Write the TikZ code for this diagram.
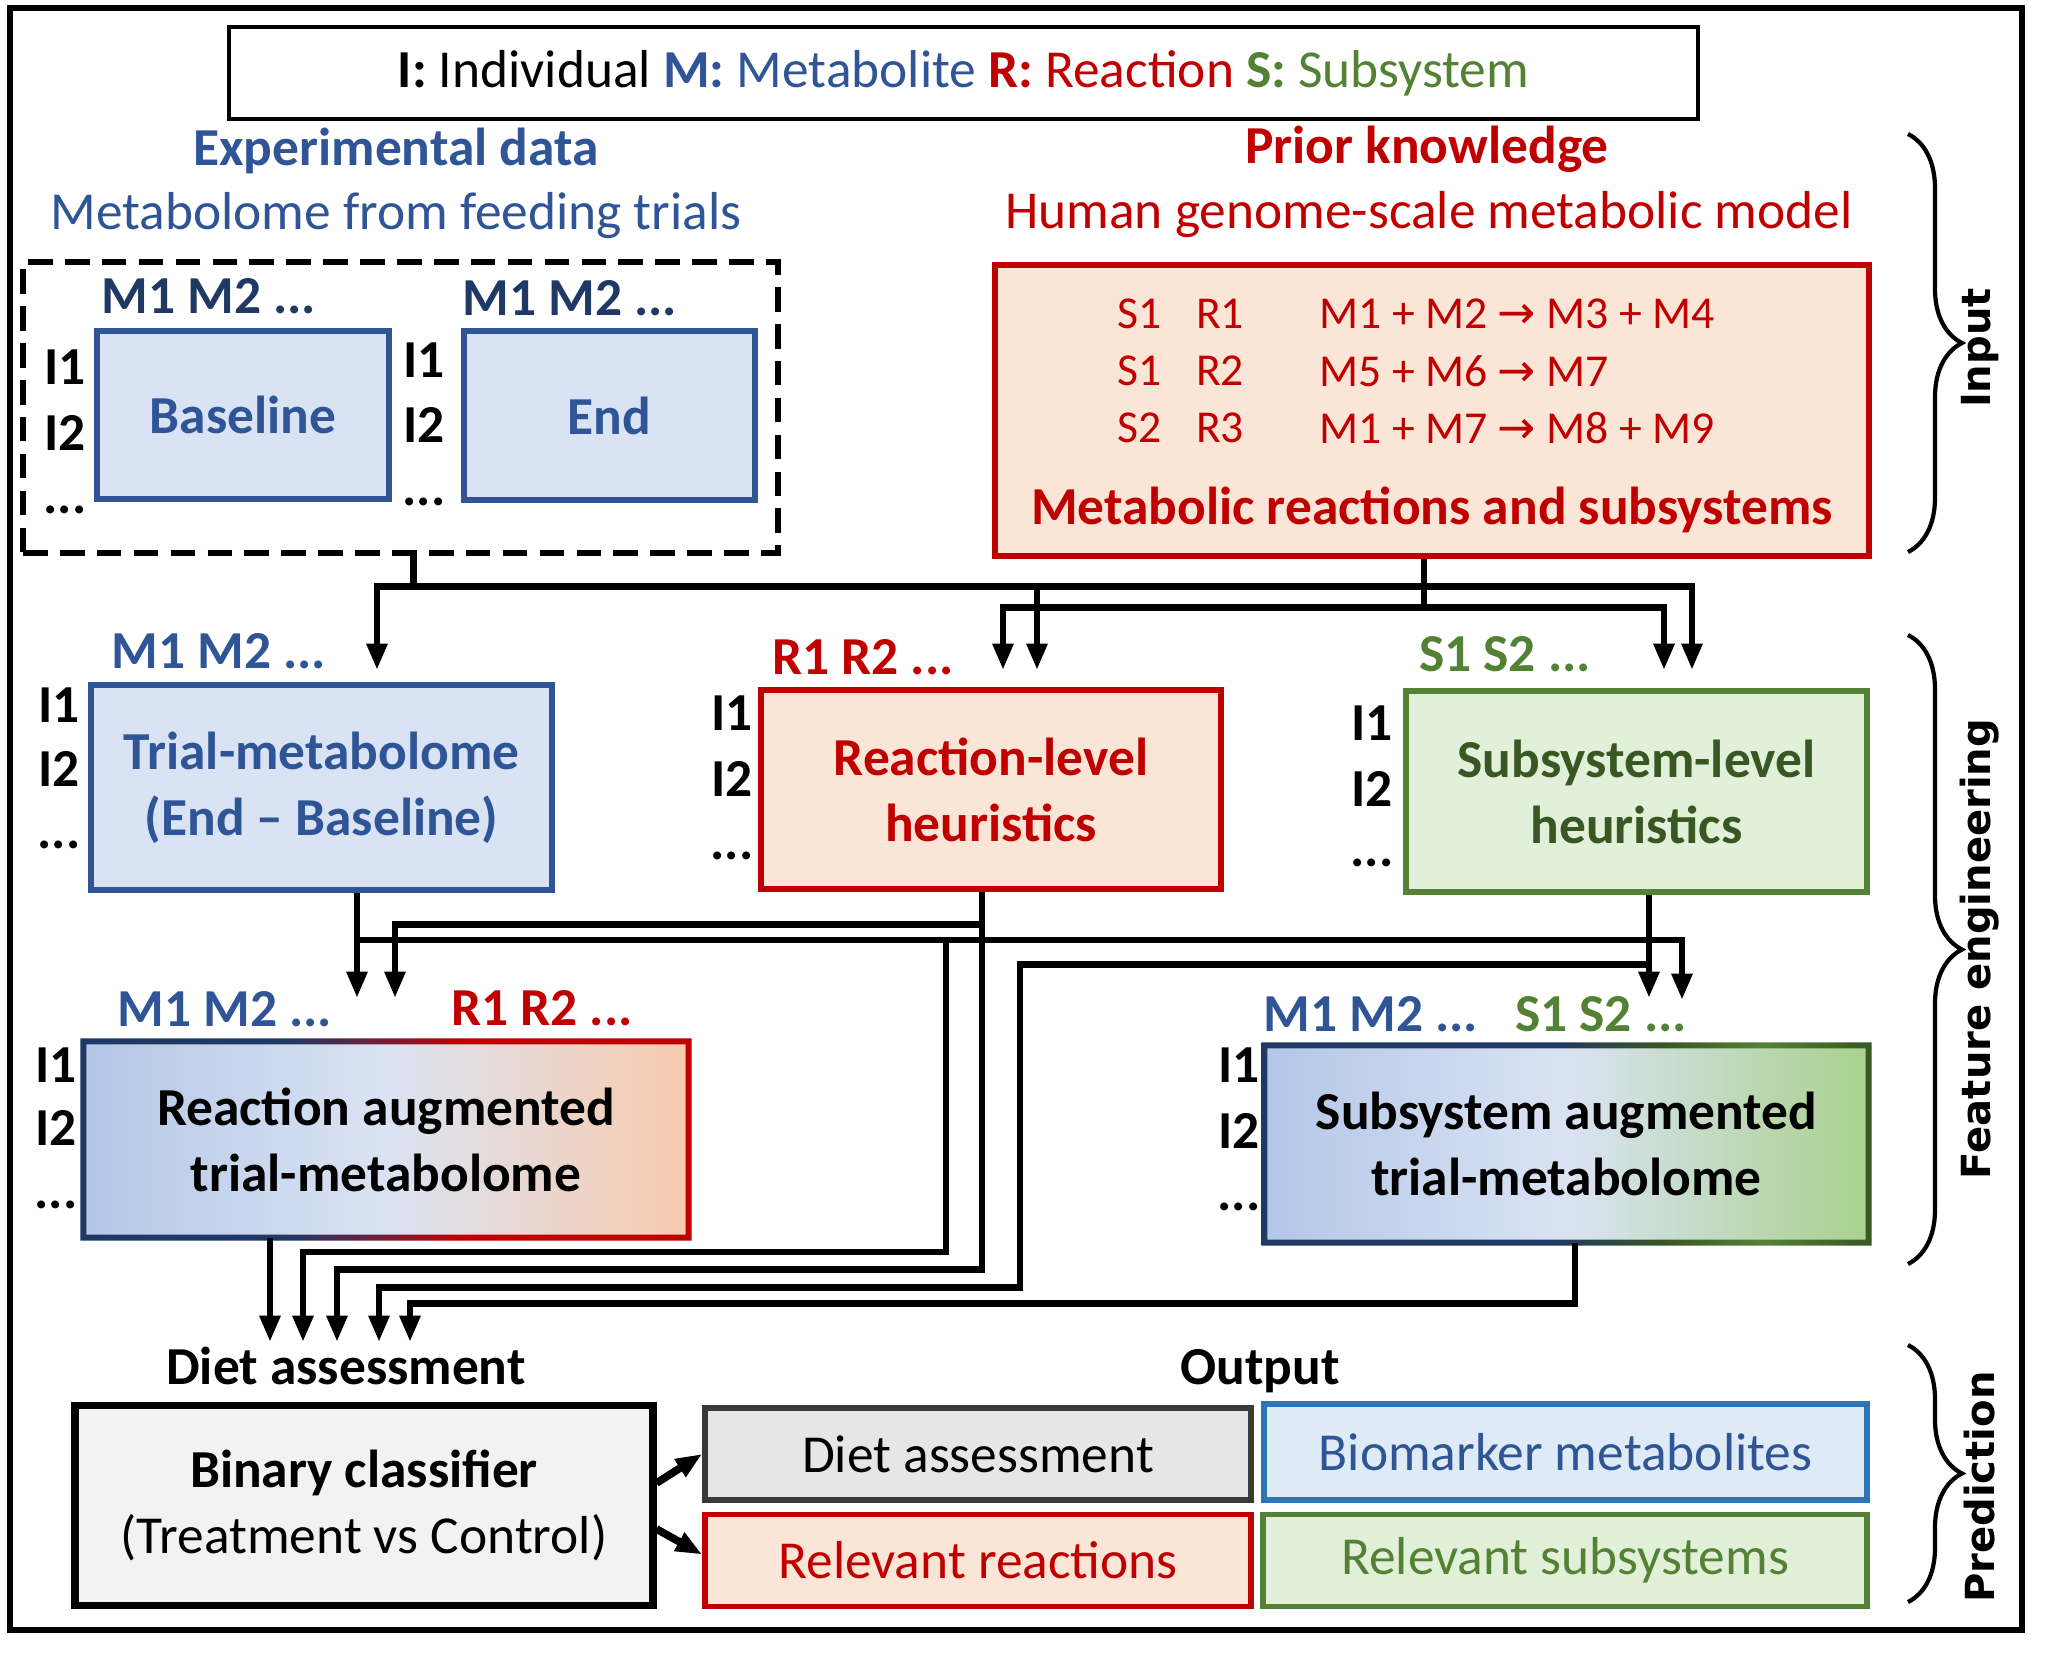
\documentclass[tikz,border=0pt]{standalone}
\usepackage{fontspec}
\setmainfont{Carlito}
\newfontfamily\dejavu{DejaVu Sans}
\usetikzlibrary{arrows.meta,decorations.pathreplacing,shadings}

\definecolor{mblue}{HTML}{2F5597}
\definecolor{navy}{HTML}{203864}
\definecolor{bluefill}{HTML}{DAE3F3}
\definecolor{rred}{HTML}{C00000}
\definecolor{redfill}{HTML}{FBE5D6}
\definecolor{gline}{HTML}{538135}
\definecolor{greenfill}{HTML}{E2F0D9}
\definecolor{sgreen}{HTML}{548235}
\definecolor{sdark}{HTML}{385723}
\definecolor{clffill}{HTML}{F2F2F2}
\definecolor{greyfill}{HTML}{E7E6E6}
\definecolor{greyline}{HTML}{3B3838}
\definecolor{bmfill}{HTML}{DEEBF7}
\definecolor{bmline}{HTML}{2E75B6}
\definecolor{augblue}{HTML}{B4C7E7}
\definecolor{augred}{HTML}{F8CBAD}
\definecolor{auggreen}{HTML}{A9D18E}
\definecolor{rimpurple}{HTML}{6E1F3F}

% rims of the two augmented boxes
\pgfdeclarehorizontalshading{rxnrim}{100bp}{color(0bp)=(navy); color(42bp)=(navy); color(49bp)=(rimpurple); color(56bp)=(rred); color(100bp)=(rred)}
\pgfdeclarehorizontalshading{subrim}{100bp}{color(0bp)=(navy); color(49bp)=(navy); color(58bp)=(sdark); color(66bp)=(sgreen); color(75bp)=(sdark); color(100bp)=(sdark)}

\tikzset{
  box/.style={draw, line width=1.6pt, align=center, inner sep=0pt},
  bluebox/.style={box, draw=mblue, fill=bluefill},
  redbox/.style={box, draw=rred, fill=redfill},
  greenbox/.style={box, draw=gline, fill=greenfill},
  augbox/.style={align=center, inner sep=0pt, font=\bfseries},
  dashbox/.style={draw, line width=1.6pt, dash pattern=on 7pt off 3.5pt},
  hdr/.style={font=\bfseries, inner sep=0pt},
  ind/.style={font=\bfseries, inner sep=0pt},
  eqtext/.style={text=rred, inner sep=0pt, font=\fontsize{13}{15}\selectfont},
  conn/.style={line width=1.9pt},
  arr/.style={conn, -{Triangle[length=7.5pt,width=5.6pt]}},
  sidebrace/.style={decorate, decoration={brace, amplitude=0.54cm}, line width=1.2pt},
  sidelbl/.style={rotate=90, inner sep=0pt, font=\dejavu\bfseries\fontsize{11.4}{13}\selectfont},
}

\begin{document}
\fontsize{15.2}{18.8}\selectfont
\begin{tikzpicture}
\useasboundingbox (0,0) rectangle (20.48,-16.73);
\draw[line width=1.7pt] (0.10,-0.08) rectangle (20.22,-16.30);

% legend
\node[box, line width=1.4pt, minimum width=14.69cm, minimum height=0.92cm] (legend) at (9.635,-0.73)
  {\textbf{I:} Individual \textcolor{mblue}{\textbf{M:} Metabolite} \textcolor{rred}{\textbf{R:} Reaction} \textcolor{sgreen}{\textbf{S:} Subsystem}};

% experimental data
\node[font=\bfseries, text=mblue] (exptitle) at (3.96,-1.51) {Experimental data};
\node[text=mblue] (expsub) at (3.96,-2.16) {Metabolome from feeding trials};
\node[dashbox, minimum width=7.55cm, minimum height=2.91cm] (exp) at (4.005,-4.075) {};
\node[bluebox, font=\bfseries, text=mblue, minimum width=2.92cm, minimum height=1.68cm] (base) at (2.43,-4.15) {Baseline};
\node[bluebox, font=\bfseries, text=mblue, minimum width=2.91cm, minimum height=1.69cm] (endm) at (6.095,-4.155) {End};
\node[hdr, text=navy] (basecols) at (2.09,-2.96) {M1 M2 ...};
\node[hdr, text=navy] (endcols) at (5.70,-2.98) {M1 M2 ...};
\node[ind] (baseIa) at (0.65,-3.67) {I1};
\node[ind] (baseIb) at (0.65,-4.33) {I2};
\node[ind] (baseIc) at (0.65,-5.10) {...};
\node[ind] (endIa) at (4.24,-3.60) {I1};
\node[ind] (endIb) at (4.24,-4.25) {I2};
\node[ind] (endIc) at (4.24,-5.02) {...};

% prior knowledge
\node[font=\bfseries, text=rred] (priortitle) at (14.27,-1.49) {Prior knowledge};
\node[text=rred] (priorsub) at (14.29,-2.15) {Human genome-scale metabolic model};
\node[redbox, minimum width=8.74cm, minimum height=2.91cm] (gsmm) at (14.32,-4.105) {};
\node[eqtext] (sa) at (11.40,-3.14) {S1};
\node[eqtext] (ra) at (12.20,-3.14) {R1};
\node[eqtext, anchor=west] (eqa) at (13.19,-3.14) {M1 + M2 {\dejavu →} M3 + M4};
\node[eqtext] (sb) at (11.40,-3.71) {S1};
\node[eqtext] (rb) at (12.20,-3.71) {R2};
\node[eqtext, anchor=west] (eqb) at (13.19,-3.71) {M5 + M6 {\dejavu →} M7};
\node[eqtext] (sc) at (11.40,-4.28) {S2};
\node[eqtext] (rc) at (12.20,-4.28) {R3};
\node[eqtext, anchor=west] (eqc) at (13.19,-4.28) {M1 + M7 {\dejavu →} M8 + M9};
\node[font=\bfseries, text=rred] (gsmmcap) at (14.32,-5.10) {Metabolic reactions and subsystems};

% feature engineering, first row
\node[bluebox, font=\bfseries, text=mblue, minimum width=4.61cm, minimum height=2.05cm] (trial) at (3.215,-7.875) {Trial-metabolome\\(End \textendash{} Baseline)};
\node[hdr, text=mblue] (trialcols) at (2.19,-6.51) {M1 M2 ...};
\node[ind] (trialIa) at (0.59,-7.05) {I1};
\node[ind] (trialIb) at (0.59,-7.69) {I2};
\node[ind] (trialIc) at (0.59,-8.45) {...};

\node[redbox, font=\bfseries, text=rred, minimum width=4.60cm, minimum height=1.99cm] (rxn) at (9.91,-7.895) {Reaction-level\\heuristics};
\node[hdr, text=rred] (rxncols) at (8.63,-6.57) {R1 R2 ...};
\node[ind] (rxnIa) at (7.32,-7.13) {I1};
\node[ind] (rxnIb) at (7.32,-7.79) {I2};
\node[ind] (rxnIc) at (7.32,-8.56) {...};

\node[greenbox, font=\bfseries, text=sdark, minimum width=4.61cm, minimum height=2.01cm] (sub) at (16.365,-7.915) {Subsystem-level\\heuristics};
\node[hdr, text=sgreen] (subcols) at (15.05,-6.54) {S1 S2 ...};
\node[ind] (subIa) at (13.72,-7.23) {I1};
\node[ind] (subIb) at (13.72,-7.89) {I2};
\node[ind] (subIc) at (13.72,-8.63) {...};

% feature engineering, augmented tables
\node[augbox, left color=augblue, right color=augred, middle color=bluefill, minimum width=6.04cm, minimum height=1.95cm] (raug) at (3.86,-11.395) {Reaction augmented\\trial-metabolome};
\shade[shading=rxnrim, even odd rule] ([shift={(-0.03,0.03)}]raug.north west) rectangle ([shift={(0.03,-0.03)}]raug.south east)
  ([shift={(0.03,-0.03)}]raug.north west) rectangle ([shift={(-0.03,0.03)}]raug.south east);
\node[hdr, text=mblue] (raugm) at (2.25,-10.09) {M1 M2 ...};
\node[hdr, text=rred] (raugr) at (5.42,-10.08) {R1 R2 ...};
\node[ind] (raugIa) at (0.56,-10.65) {I1};
\node[ind] (raugIb) at (0.56,-11.28) {I2};
\node[ind] (raugIc) at (0.56,-12.05) {...};

\node[augbox, left color=augblue, right color=auggreen, middle color=bluefill, minimum width=6.03cm, minimum height=1.96cm] (saug) at (15.665,-11.44) {Subsystem augmented\\trial-metabolome};
\shade[shading=subrim, even odd rule] ([shift={(-0.03,0.03)}]saug.north west) rectangle ([shift={(0.03,-0.03)}]saug.south east)
  ([shift={(0.03,-0.03)}]saug.north west) rectangle ([shift={(-0.03,0.03)}]saug.south east);
\node[hdr, text=mblue] (saugm) at (13.71,-10.14) {M1 M2 ...};
\node[hdr, text=sgreen] (saugs) at (16.01,-10.14) {S1 S2 ...};
\node[ind] (saugIa) at (12.39,-10.65) {I1};
\node[ind] (saugIb) at (12.39,-11.31) {I2};
\node[ind] (saugIc) at (12.39,-12.07) {...};

% prediction
\node[font=\bfseries] (dietlbl) at (3.46,-13.66) {Diet assessment};
\node[box, line width=2pt, fill=clffill, minimum width=5.78cm, minimum height=2.0cm] (clf) at (3.64,-15.05) {\textbf{Binary classifier}\\(Treatment vs Control)};
\node[font=\bfseries] (outlbl) at (12.60,-13.71) {Output};
\node[box, draw=greyline, fill=greyfill, minimum width=5.46cm, minimum height=0.92cm] (dietout) at (9.78,-14.54) {Diet assessment};
\node[box, draw=bmline, fill=bmfill, text=mblue, minimum width=6.03cm, minimum height=0.96cm] (biom) at (15.655,-14.52) {Biomarker metabolites};
\node[box, draw=rred, fill=redfill, text=rred, minimum width=5.46cm, minimum height=0.92cm] (relr) at (9.78,-15.605) {Relevant reactions};
\node[box, draw=gline, fill=greenfill, text=sgreen, minimum width=6.04cm, minimum height=0.92cm] (rels) at (15.65,-15.605) {Relevant subsystems};

% arrow ends
\coordinate (inTrial) at (3.77,-6.70);
\coordinate (inRxnA) at (10.37,-6.70);
\coordinate (inRxnB) at (10.03,-6.70);
\coordinate (inSubA) at (16.92,-6.70);
\coordinate (inSubB) at (16.64,-6.70);
\coordinate (inRaugT) at (3.57,-9.98);
\coordinate (inRaugR) at (3.95,-9.98);
\coordinate (inSaugS) at (16.49,-9.98);
\coordinate (inSaugT) at (16.82,-10.00);
\coordinate (inDietRA) at (2.70,-13.42);
\coordinate (inDietT) at (3.03,-13.42);
\coordinate (inDietR) at (3.37,-13.42);
\coordinate (inDietS) at (3.79,-13.42);
\coordinate (inDietSA) at (4.10,-13.42);

% input -> feature engineering
\draw[conn] ([xshift=0.13cm]exp.south) -- ++(0,-0.31) coordinate (busA);
\draw[arr] (busA) -| (inTrial);
\draw[arr] (busA) -| (inRxnA);
\draw[arr] (busA) -| (inSubA);
\draw[conn] ([xshift=-0.08cm]gsmm.south) -- ++(0,-0.49) coordinate (busB);
\draw[arr] (busB) -| (inRxnB);
\draw[arr] (busB) -| (inSubB);

% heuristics -> augmented tables and classifier
\coordinate (tBus) at (3.57,-9.40);
\draw[arr] (trial.south -| inRaugT) -- (inRaugT);
\draw[arr] (tBus) -| (inSaugT);
\draw[arr] (tBus -| 9.46,0) -- ++(0,-3.12) -| (inDietT);
\draw[arr] ([xshift=-0.09cm]rxn.south) -- ++(0,-0.33) -| (inRaugR);
\draw[arr] ([xshift=-0.09cm]rxn.south) -- ++(0,-3.78) -| (inDietR);
\draw[arr] (sub.south -| inSaugS) -- (inSaugS);
\draw[arr] (sub.south -| inSaugS) -- ++(0,-0.70) -| ++(-6.29,-3.23) -| (inDietS);
\draw[arr] ([xshift=0.085cm]saug.south) -- ++(0,-0.61) -| (inDietSA);
\draw[arr] (raug.south -| inDietRA) -- (inDietRA);

% classifier -> outputs
\draw[arr, line width=2.2pt] ([yshift=0.22cm]clf.east) -- (dietout.west);
\draw[arr, line width=2.2pt] ([yshift=-0.24cm]clf.east) -- ([yshift=0.06cm]relr.west);

% stage braces
\draw[sidebrace] (19.08,-1.34) -- (19.08,-5.52);
\draw[sidebrace] (19.08,-6.35) -- (19.08,-12.64);
\draw[sidebrace] (19.08,-13.45) -- (19.08,-16.02);
\node[sidelbl] (inputlbl) at (19.80,-3.48) {Input};
\node[sidelbl] (featlbl) at (19.80,-9.49) {Feature engineering};
\node[sidelbl] (predlbl) at (19.80,-14.87) {Prediction};
\end{tikzpicture}
\end{document}
